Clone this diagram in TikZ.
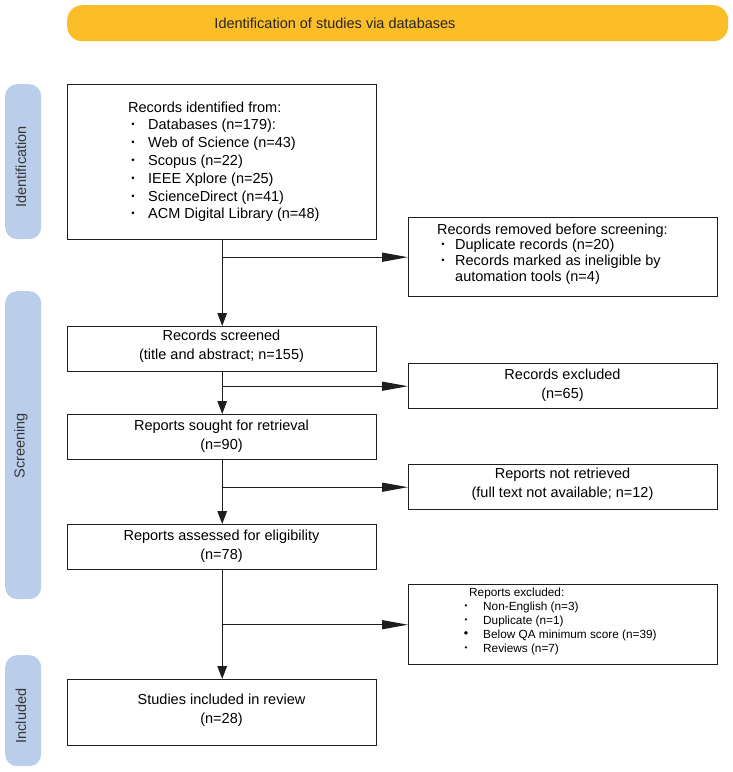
\documentclass[tikz,border=0pt]{standalone}
\usepackage{fontspec}
\setmainfont{Liberation Sans}
\usetikzlibrary{arrows.meta}
\definecolor{bannery}{RGB}{252,190,40}
\definecolor{sideblue}{RGB}{186,205,234}
\definecolor{sidetxt}{RGB}{55,55,55}
\definecolor{linec}{RGB}{30,30,30}
\newcommand{\smbul}{{\fontsize{9.5}{9.5}\selectfont\textbullet}}
\newcommand{\tnbul}{{\fontsize{8}{8}\selectfont\textbullet}}
\begin{document}
\begin{tikzpicture}[x=1pt,y=-1pt,
  box/.style={draw=linec,line width=1.4pt,inner sep=0pt,anchor=north west,minimum width=309pt},
  side/.style={fill=sideblue,rounded corners=12pt,inner sep=0pt,anchor=north west,minimum width=36pt},
  sidet/.style={text=sidetxt,font=\fontsize{14.5}{17}\selectfont,rotate=90,inner sep=0pt},
  tl/.style={font=\fontsize{14.5}{18}\selectfont,inner sep=0pt,anchor=base west},
  ts/.style={font=\fontsize{11.8}{14}\selectfont,inner sep=0pt,anchor=base west},
  tb/.style={font=\fontsize{14.5}{18.5}\selectfont,inner sep=0pt,align=center},
  bl/.style={inner sep=0pt,anchor=center},
  arrD/.style={draw=linec,line width=1.4pt,-{Triangle[length=13pt,width=9.5pt]}},
  arrR/.style={draw=linec,line width=1.4pt,-{Triangle[length=26pt,width=9pt]}}
]
\useasboundingbox (0,0) rectangle (733,772);

% banner
\node[fill=bannery,rounded corners=15pt,minimum width=661pt,minimum height=36pt,inner sep=0pt,anchor=north west] (ban) at (67,5) {};
\node[font=\fontsize{14.5}{17}\selectfont,text=black!85,inner sep=0pt] (bant) at (335,23) {Identification of studies via databases};

% side labels
\node[side,minimum height=155pt] (sid) at (5,84) {};
\node[sidet] (sidt) at (21,167) {Identification};
\node[side,minimum height=308pt] (sscr) at (5,291) {};
\node[sidet] (sscrt) at (21,446) {Screening};
\node[side,minimum height=111pt] (sinc) at (5,655) {};
\node[sidet] (sinct) at (21,716) {Included};

% left column boxes
\node[box,minimum height=155pt] (b1) at (67,84) {};
\node[box,minimum height=45pt] (b2) at (67,326) {};
\node[box,minimum height=45pt] (b3) at (67,414) {};
\node[box,minimum height=45pt] (b4) at (67,524) {};
\node[box,minimum height=66pt] (b5) at (67,679) {};

% right column boxes
\node[box,minimum height=79pt] (r1) at (408,217) {};
\node[box,minimum height=45pt] (r2) at (408,363) {};
\node[box,minimum height=45pt] (r3) at (408,464) {};
\node[box,minimum height=80pt] (r4) at (408,584) {};

% box 1 text
\node[tl] (b1h) at (128,112.2) {Records identified from:};
\node[bl] (b1p1) at (133,125) {\smbul};
\node[tl] (b1a) at (148,129.2) {Databases (n=179):};
\node[bl] (b1p2) at (133,143) {\smbul};
\node[tl] (b1b) at (148,147.2) {Web of Science (n=43)};
\node[bl] (b1p3) at (133,161) {\smbul};
\node[tl] (b1c) at (148,165.2) {Scopus (n=22)};
\node[bl] (b1p4) at (133,179) {\smbul};
\node[tl] (b1d) at (148,183.2) {IEEE Xplore (n=25)};
\node[bl] (b1p5) at (133,197) {\smbul};
\node[tl] (b1e) at (148,201.2) {ScienceDirect (n=41)};
\node[bl] (b1p6) at (133,214.5) {\smbul};
\node[tl] (b1f) at (148,218.7) {ACM Digital Library (n=48)};

% removed box text
\node[tl] (r1h) at (437,234.2) {Records removed before screening:};
\node[bl] (r1p1) at (443,245) {\smbul};
\node[tl] (r1a) at (455,249.2) {Duplicate records (n=20)};
\node[bl] (r1p2) at (443,261) {\smbul};
\node[tl] (r1b) at (455,265.2) {Records marked as ineligible by};
\node[tl] (r1c) at (455,281.2) {automation tools (n=4)};

% reports excluded text
\node[ts] (r4h) at (469,596.2) {Reports excluded:};
\node[bl] (r4p1) at (466,607) {\tnbul};
\node[ts] (r4a) at (483,610.2) {Non-English (n=3)};
\node[bl] (r4p2) at (466,621) {\tnbul};
\node[ts] (r4b) at (483,624.2) {Duplicate (n=1)};
\node[bl] (r4p3) at (466,634.5) {{\fontsize{12.5}{12.5}\selectfont\textbullet}};
\node[ts] (r4c) at (483,638.2) {Below QA minimum score (n=39)};
\node[bl] (r4p4) at (466,649) {\tnbul};
\node[ts] (r4d) at (483,652.2) {Reviews (n=7)};

% centered texts
\node[tb] (b2t) at (221.5,346) {Records screened\\(title and abstract; n=155)};
\node[tb] (b3t) at (221.5,436) {Reports sought for retrieval\\(n=90)};
\node[tb] (b4t) at (221.5,546) {Reports assessed for eligibility\\(n=78)};
\node[tb] (b5t) at (221.5,710) {Studies included in review\\(n=28)};
\node[tb] (r2t) at (562.5,385) {Records excluded\\(n=65)};
\node[tb] (r3t) at (562.5,484) {Reports not retrieved\\(full text not available; n=12)};

% connectors
\draw[arrD] (b1.south) -- (b2.north);
\draw[arrD] (b2.south) -- (b3.north);
\draw[arrD] (b3.south) -- (b4.north);
\draw[arrD] (b4.south) -- (b5.north);
\draw[arrR] (b1.south |- r1.west) -- (r1.west);
\draw[arrR] (b2.south |- r2.west) -- (r2.west);
\draw[arrR] (b3.south |- r3.west) -- (r3.west);
\draw[arrR] (b4.south |- r4.west) -- (r4.west);
\end{tikzpicture}
\end{document}
